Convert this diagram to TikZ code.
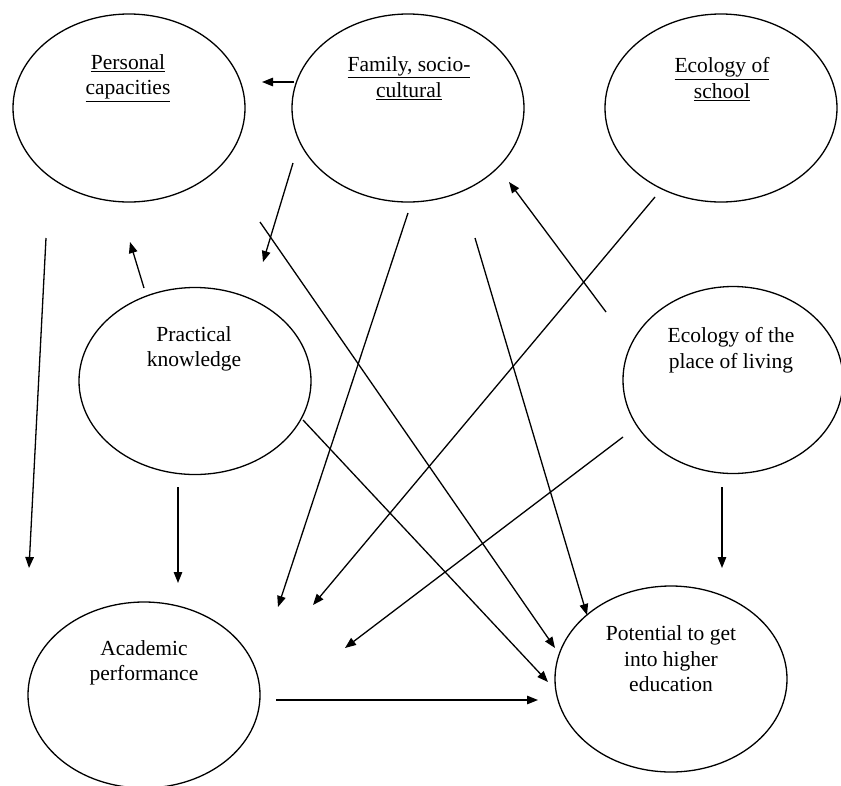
\documentclass[tikz,border=0pt]{standalone}
\usepackage{fontspec}
\setmainfont{Liberation Serif}
\usetikzlibrary{shapes.geometric,arrows.meta}
\begin{document}
\begin{tikzpicture}[x=1pt,y=-1pt,
  oval/.style={draw, ellipse, line width=1.3pt, minimum width=232pt, minimum height=188pt, inner sep=0pt, outer sep=0pt},
  lbl/.style={font=\fontsize{21.5}{25.5}\selectfont, align=center, inner sep=0pt},
  arr/.style={line width=1.3pt, -{Triangle[length=11pt,width=8.5pt]}}
]
\path[use as bounding box] (0,0) rectangle (841,785);
\begin{scope}
\clip (0,0) rectangle (841,785);
% ellipses
\node[oval] (pc)  at (129,108) {};
\node[oval] (fam) at (408,108) {};
\node[oval] (eos) at (721,108) {};
\node[oval, minimum height=187pt] (pk)  at (195,381) {};
\node[oval, minimum width=220pt, minimum height=187pt] (eol) at (733,380) {};
\node[oval, minimum height=186pt] (ap)  at (144,695) {};
\node[oval, minimum height=186pt] (pot) at (671,679) {};
\end{scope}
% labels
\node[lbl] (tpc)  at (128,78) {\underline{Personal}\\\underline{capacities}};
\node[lbl] (tfam) at (409,78) {\underline{Family, socio-}\\\underline{cultural}};
\node[lbl] (teos) at (722,79) {\underline{Ecology of}\\\underline{school}};
\node[lbl] (tpk)  at (194,349) {Practical\\knowledge};
\node[lbl] (teol) at (731,350) {Ecology of the\\place of living};
\node[lbl] (tap)  at (144,663) {Academic\\performance};
\node[lbl] (tpot) at (671,659) {Potential to get\\into higher\\education};
% connector end points
\coordinate (s1) at (294,82);   \coordinate (e1) at (262,82);
\coordinate (s2) at (293,163);  \coordinate (e2) at (263,262);
\coordinate (s3) at (144,288);  \coordinate (e3) at (130,242);
\coordinate (s4) at (46,238);   \coordinate (e4) at (29,568);
\coordinate (s5) at (178,487);  \coordinate (e5) at (178,583);
\coordinate (s6) at (260,222);  \coordinate (e6) at (555,648);
\coordinate (s7) at (408,213);  \coordinate (e7) at (278,607);
\coordinate (s8) at (475,238);  \coordinate (e8) at (587,615);
\coordinate (s9) at (655,197);  \coordinate (e9) at (313,605);
\coordinate (s10) at (606,312); \coordinate (e10) at (509,182);
\coordinate (s11) at (623,437); \coordinate (e11) at (345,648);
\coordinate (s12) at (722,487); \coordinate (e12) at (722,568);
\coordinate (s13) at (303,420); \coordinate (e13) at (548,682);
\coordinate (s14) at (276,700); \coordinate (e14) at (538,700);
\foreach \i in {1,...,14} {\draw[arr] (s\i) -- (e\i);}
\end{tikzpicture}
\end{document}
